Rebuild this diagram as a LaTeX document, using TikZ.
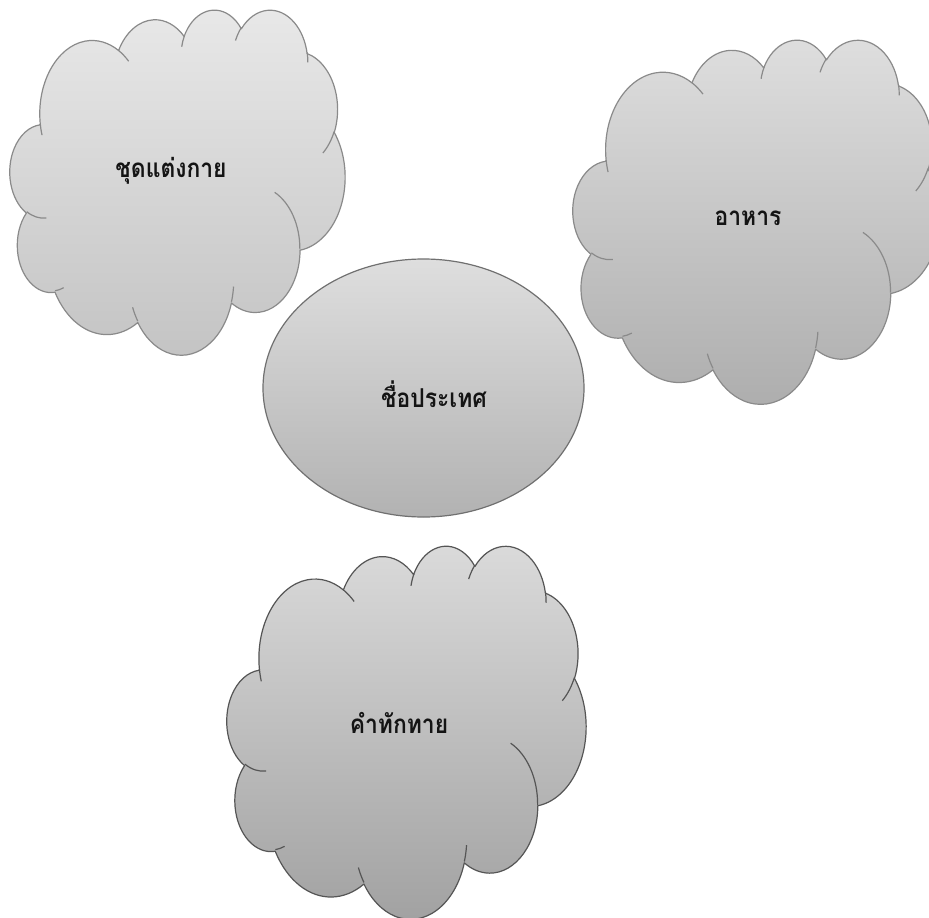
\documentclass[tikz,border=0pt]{standalone}
\usepackage{fontspec}
\newfontfamily\thaifont[Script=Thai, FakeStretch=0.88]{Loma}
\usetikzlibrary{shapes.geometric}

% convert an Office arcTo (visual angles) into parametric TikZ angles
\newcommand\convarc[5]{%
  \pgfmathsetmacro\caS{#4}%
  \pgfmathsetmacro\caE{(#4)+(#5)}%
  \pgfmathsetmacro\caTs{atan2((#2)*sin(\caS),(#3)*cos(\caS))}%
  \pgfmathsetmacro\caTe{atan2((#2)*sin(\caE),(#3)*cos(\caE))}%
  \pgfmathsetmacro\caD{((\caTe)-(\caE))-((\caTs)-(\caS))}%
  \pgfmathsetmacro\caD{(\caD)-360*round((\caD)/360)}%
  \pgfmathsetmacro\caB{(\caTs)+(#5)+(\caD)}%
  \expandafter\xdef\csname arc#1s\endcsname{\caTs}%
  \expandafter\xdef\csname arc#1e\endcsname{\caB}%
}
\convarc{A}{6.753}{9.190}{-190.48748}{123.78053}
\convarc{B}{5.333}{7.267}{-144.10238}{89.94523}
\convarc{C}{4.365}{5.945}{-145.80792}{99.72302}
\convarc{D}{4.857}{6.595}{-130.98607}{117.24173}
\convarc{E}{5.333}{7.273}{-78.70888}{109.02692}
\convarc{F}{6.775}{9.220}{-46.26725}{130.269}
\convarc{G}{5.785}{7.867}{0.62502}{114.03333}
\convarc{H}{6.752}{9.215}{22.4516}{115.17255}
\convarc{I}{7.720}{10.543}{66.24263}{75.71102}
\convarc{J}{4.360}{5.918}{-274.94208}{146.73557}
\convarc{K}{4.345}{5.945}{-246.8285}{152.51885}
\convarc{a}{4.345}{5.945}{86.742}{26.4295}
\convarc{b}{4.360}{5.918}{73.61047}{11.44747}
\convarc{c}{6.752}{9.215}{137.62415}{14.0811}
\convarc{d}{6.752}{9.215}{6.45327}{15.99835}
\convarc{e}{5.785}{7.867}{-70.29235}{70.91737}
\convarc{f}{5.333}{7.273}{30.31803}{27.7515}
\convarc{g}{4.857}{6.595}{-13.74433}{14.8589}
\convarc{h}{4.857}{6.595}{-149.18145}{18.19537}
\convarc{i}{4.365}{5.945}{-163.49427}{17.68635}
\convarc{j}{6.753}{9.190}{-66.70695}{12.31935}
\convarc{k}{6.753}{9.190}{157.65435}{11.85817}

\def\cloudmain{(3.9pt,14.37pt)
  arc[start angle=\arcAs,end angle=\arcAe,x radius=6.753pt,y radius=9.190pt]
  arc[start angle=\arcBs,end angle=\arcBe,x radius=5.333pt,y radius=7.267pt]
  arc[start angle=\arcCs,end angle=\arcCe,x radius=4.365pt,y radius=5.945pt]
  arc[start angle=\arcDs,end angle=\arcDe,x radius=4.857pt,y radius=6.595pt]
  arc[start angle=\arcEs,end angle=\arcEe,x radius=5.333pt,y radius=7.273pt]
  arc[start angle=\arcFs,end angle=\arcFe,x radius=6.775pt,y radius=9.220pt]
  arc[start angle=\arcGs,end angle=\arcGe,x radius=5.785pt,y radius=7.867pt]
  arc[start angle=\arcHs,end angle=\arcHe,x radius=6.752pt,y radius=9.215pt]
  arc[start angle=\arcIs,end angle=\arcIe,x radius=7.720pt,y radius=10.543pt]
  arc[start angle=\arcJs,end angle=\arcJe,x radius=4.360pt,y radius=5.918pt]
  arc[start angle=\arcKs,end angle=\arcKe,x radius=4.345pt,y radius=5.945pt]
  -- cycle}
\def\clouddetail{%
  (4.693pt,26.177pt) arc[start angle=\arcas,end angle=\arcae,x radius=4.345pt,y radius=5.945pt]
  (6.928pt,34.899pt) arc[start angle=\arcbs,end angle=\arcbe,x radius=4.360pt,y radius=5.918pt]
  (16.478pt,39.090pt) arc[start angle=\arccs,end angle=\arcce,x radius=6.752pt,y radius=9.215pt]
  (28.827pt,34.751pt) arc[start angle=\arcds,end angle=\arcde,x radius=6.752pt,y radius=9.215pt]
  (34.129pt,22.954pt) arc[start angle=\arces,end angle=\arcee,x radius=5.785pt,y radius=7.867pt]
  (41.798pt,15.354pt) arc[start angle=\arcfs,end angle=\arcfe,x radius=5.333pt,y radius=7.273pt]
  (38.324pt,5.426pt) arc[start angle=\arcgs,end angle=\arcge,x radius=4.857pt,y radius=6.595pt]
  (29.078pt,3.952pt) arc[start angle=\archs,end angle=\arche,x radius=4.857pt,y radius=6.595pt]
  (22.141pt,4.720pt) arc[start angle=\arcis,end angle=\arcie,x radius=4.365pt,y radius=5.945pt]
  (14.000pt,5.192pt) arc[start angle=\arcjs,end angle=\arcje,x radius=6.753pt,y radius=9.190pt]
  (4.127pt,15.789pt) arc[start angle=\arcks,end angle=\arcke,x radius=6.753pt,y radius=9.190pt]}

\definecolor{cAtop}{HTML}{E8E8E8}
\definecolor{cAbot}{HTML}{C4C4C4}
\definecolor{cBtop}{HTML}{DEDEDE}
\definecolor{cBbot}{HTML}{AEAEAE}
\definecolor{cCtop}{HTML}{DADADA}
\definecolor{cCbot}{HTML}{A2A2A2}
\definecolor{cEtop}{HTML}{DEDEDE}
\definecolor{cEbot}{HTML}{B2B2B2}
\definecolor{lineA}{HTML}{8A8A8A}
\definecolor{lineC}{HTML}{555555}
\definecolor{lineE}{HTML}{707070}
\definecolor{txt}{HTML}{141414}

\tikzset{
  cloudat/.style n args={4}{shift={(#1pt,-#2pt)}, xscale=#3/43.2, yscale=-#4/43.2},
  cloudline/.style={line width=1.2pt, line join=round},
  lbl/.style={font=\thaifont\bfseries\fontsize{26}{30}\selectfont, text=txt, inner sep=0pt, anchor=base},
}

% X Y W H top bottom line
\newcommand\drawcloud[7]{%
  \begin{scope}
    \clip[cloudat={#1}{#2}{#3}{#4}] \cloudmain;
    \shade[top color=#5, bottom color=#6] (#1pt,-#2pt) rectangle ++(#3pt,-#4pt);
  \end{scope}
  \draw[cloudline, draw=#7, cloudat={#1}{#2}{#3}{#4}] \cloudmain;
  \draw[cloudline, draw=#7, cloudat={#1}{#2}{#3}{#4}] \clouddetail;
}

\begin{document}
\begin{tikzpicture}
  \useasboundingbox (0,0) rectangle (929pt,-918pt);
  \fill[white] (0,0) rectangle (929pt,-918pt);

  \drawcloud{10}{9}{335}{345}{cAtop}{cAbot}{lineA}
  \drawcloud{573}{39}{367}{364}{cBtop}{cBbot}{lineA}
  \drawcloud{227}{545}{359}{373}{cCtop}{cCbot}{lineC}

  \node[ellipse, draw=lineE, line width=1.2pt, top color=cEtop, bottom color=cEbot,
        minimum width=321pt, minimum height=258pt, inner sep=0pt] (country) at (423.5pt,-388pt) {};

  \node[lbl] (dress) at (171pt,-177pt) {ชุดแต่งกาย};
  \node[lbl] (food) at (748pt,-225pt) {อาหาร};
  \node[lbl] (name) at (434pt,-407pt) {ชื่อประเทศ};
  \node[lbl] (greet) at (399pt,-733pt) {คำทักทาย};
\end{tikzpicture}
\end{document}
